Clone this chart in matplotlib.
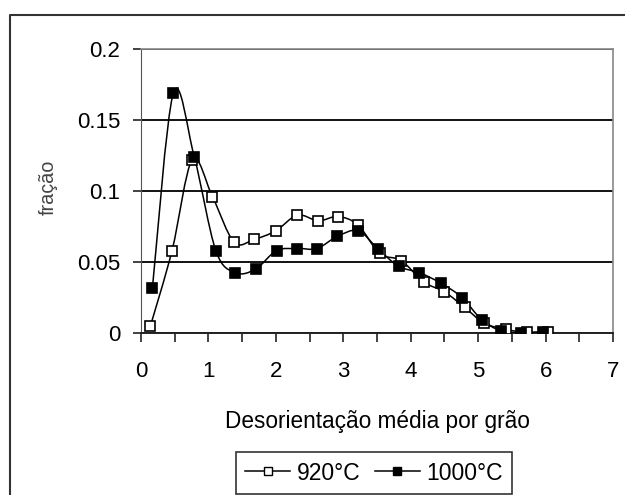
from matplotlib import pyplot as plt
from matplotlib.path import Path
from matplotlib.patches import PathPatch
from matplotlib.lines import Line2D
import numpy as np

plt.rcParams['font.family'] = ['Liberation Sans', 'DejaVu Sans']

# 920 C (open squares)
x_920 = [0.14, 0.46, 0.76, 1.06, 1.38, 1.68, 2.00, 2.32, 2.63, 2.92, 3.22,
         3.54, 3.86, 4.19, 4.50, 4.80, 5.09, 5.41, 5.72, 6.03]
y_920 = [0.005, 0.058, 0.122, 0.096, 0.064, 0.066, 0.072, 0.083, 0.079, 0.082, 0.076,
         0.056, 0.051, 0.036, 0.029, 0.018, 0.007, 0.0025, 0.0005, 0.001]

# 1000 C (filled squares)
x_1000 = [0.17, 0.48, 0.79, 1.11, 1.40, 1.70, 2.01, 2.32, 2.61, 2.91, 3.22,
          3.52, 3.82, 4.13, 4.45, 4.76, 5.05, 5.34, 5.64, 5.96]
y_1000 = [0.032, 0.169, 0.124, 0.058, 0.0425, 0.045, 0.058, 0.0595, 0.0595, 0.068, 0.072,
          0.059, 0.047, 0.0425, 0.035, 0.025, 0.0095, 0.0015, 0.0003, 0.0008]

labels = ['920°C', '1000°C']


def smooth_path(ax, xs, ys, t=0.5 / 3):
    # excel-like smoothed line: cubic bezier segments through the points
    xs = np.asarray(xs)
    ys = np.asarray(ys)
    verts = [(xs[0], ys[0])]
    codes = [Path.MOVETO]
    n = len(xs)
    for i in range(n - 1):
        p0 = np.array([xs[max(i - 1, 0)], ys[max(i - 1, 0)]])
        p1 = np.array([xs[i], ys[i]])
        p2 = np.array([xs[i + 1], ys[i + 1]])
        p3 = np.array([xs[min(i + 2, n - 1)], ys[min(i + 2, n - 1)]])
        c1 = p1 + (p2 - p0) * t
        c2 = p2 - (p3 - p1) * t
        verts += [tuple(c1), tuple(c2), tuple(p2)]
        codes += [Path.CURVE4] * 3
    ax.add_patch(PathPatch(Path(verts, codes), fill=False, lw=1.1, ec='black', zorder=3))


fig = plt.figure(figsize=(6.25, 4.95), dpi=100)
ax = fig.add_axes([141 / 625, 1 - 333 / 495, (613 - 141) / 625, (333 - 49) / 495])

smooth_path(ax, x_920, y_920)
smooth_path(ax, x_1000, y_1000)
ax.plot(x_920, y_920, 's', ms=7.5, mfc='white', mec='black', mew=1.2, zorder=4)
ax.plot(x_1000, y_1000, 's', ms=7.5, mfc='black', mec='black', mew=1.2, zorder=5)

ax.set_xlim(0, 7)
ax.set_ylim(0, 0.2)
ax.set_xticks(range(0, 8))
ax.set_xticks(np.arange(0.5, 7, 1), minor=True)
ax.set_yticks([0, 0.05, 0.1, 0.15, 0.2])
ax.set_yticklabels(['0', '0.05', '0.1', '0.15', '0.2'])
ax.tick_params(axis='both', which='both', direction='out', width=1.2,
               labelsize=16, color='#222222')
ax.tick_params(axis='x', which='both', length=6.5, pad=13.5)
ax.tick_params(axis='y', length=6, pad=9)
ax.yaxis.grid(True, color='#111111', lw=1.4)
ax.set_axisbelow(True)
for s in ['top', 'right']:
    ax.spines[s].set_color('#888888')
    ax.spines[s].set_linewidth(1.2)
ax.spines['left'].set_color('#555555')
ax.spines['bottom'].set_color('#222222')
ax.spines['bottom'].set_linewidth(1.4)

ax.set_xlabel('Desorientação média por grão', fontsize=16.3, labelpad=20)
fig.text(48 / 625, 1 - 187 / 495, 'fração', rotation=90, fontsize=14.3, color='#444444',
         ha='center', va='center')

handles = [Line2D([], [], color='black', lw=1.1, marker='s', ms=6, mfc='white', mec='black'),
           Line2D([], [], color='black', lw=1.1, marker='s', ms=6, mfc='black', mec='black')]
leg = fig.legend(handles, labels, ncol=2, loc='center', bbox_to_anchor=(374 / 625, 1 - 473 / 495),
                 fontsize=16.5, frameon=True, fancybox=False, edgecolor='black', handlelength=1.95,
                 handletextpad=0.28, columnspacing=0.65, borderpad=0.4, borderaxespad=0)
leg.get_frame().set_linewidth(1.2)

# outer chart border (cut at right and bottom)
fig.add_artist(Line2D([10 / 625, 10 / 625, 1.01], [-0.01, 1 - 15 / 495, 1 - 15 / 495],
                      transform=fig.transFigure, color='#333333', lw=1.5))

fig.savefig('out.png', dpi=100)
